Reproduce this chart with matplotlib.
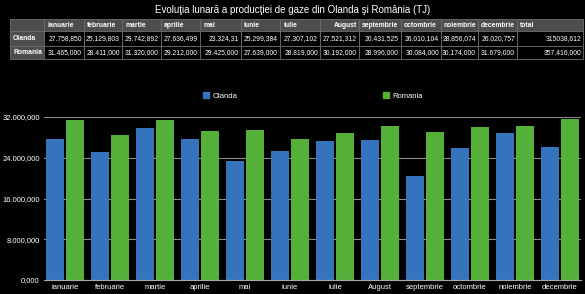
import matplotlib
matplotlib.use("Agg")
import matplotlib.pyplot as plt
from matplotlib.patches import Patch
import numpy as np

plt.rcParams["font.family"] = ["Liberation Sans", "DejaVu Sans"]

months = ["ianuarie", "februarie", "martie", "aprilie", "mai", "iunie", "iulie",
          "August", "septembrie", "octombrie", "noiembrie", "decembrie"]
olanda = [27758.850, 25129.803, 29742.892, 27636.499, 23324.310, 25299.384,
          27307.102, 27521.312, 20431.525, 26010.104, 28856.074, 26020.757]
romania = [31465.0, 28411.0, 31320.0, 29212.0, 29425.0, 27639.0,
           28819.0, 30192.0, 28996.0, 30084.0, 30174.0, 31679.0]
olanda_txt = ["27.758,850", "25.129,803", "29.742,892", "27.636,499", "23.324,31",
              "25.299,384", "27.307,102", "27.521,312", "20.431,525", "26.010,104",
              "28.856,074", "26.020,757", "315038,612"]
romania_txt = ["31.465,000", "28.411,000", "31.320,000", "29.212,000", "29.425,000",
               "27.639,000", "28.819,000", "30.192,000", "28.996,000", "30.084,000",
               "30.174,000", "31.679,000", "357.416,000"]
yticks = [0, 8000, 16000, 24000, 32000]

BLUE = "#3673bd"
GREEN = "#55b03a"
W, H = 585, 294

fig = plt.figure(figsize=(W / 100, H / 100), dpi=100, facecolor="black")

fig.text(0.5, 1 - 10 / H, "Evoluţia lunară a producţiei de gaze din Olanda şi România (TJ)",
         color="white", fontsize=7, ha="center", va="center")

# --- table ---
tab = fig.add_axes([0, 0, 1, 1])
tab.axis("off")
tab.set_xlim(0, W)
tab.set_ylim(H, 0)
col_edges = [10, 44, 84, 122, 161, 200, 241, 280, 320, 359, 401, 441, 478, 517, 583]
row_edges = [19, 31, 46, 59]
header = [""] + months + ["total"]
rows = [header, ["Olanda"] + olanda_txt, ["Romania"] + romania_txt]
for r in range(3):
    for c in range(len(col_edges) - 1):
        x0, x1 = col_edges[c], col_edges[c + 1]
        y0, y1 = row_edges[r], row_edges[r + 1]
        grey = r == 0 or c == 0
        tab.add_patch(plt.Rectangle((x0, y0), x1 - x0, y1 - y0,
                                    facecolor="#4d4d4d" if grey else "black",
                                    edgecolor="#6e6e6e", linewidth=0.6))
        txt = rows[r][c]
        right = (r > 0 and c > 0) or txt == "August"
        tab.text(x1 - 2 if right else x0 + 3, (y0 + y1) / 2 + 0.5, txt,
                 color="white", fontsize=4.9, ha="right" if right else "left",
                 va="center", fontweight="bold" if grey else "normal")

# --- bars ---
ax = fig.add_axes([44 / W, (H - 280) / H, (581 - 44) / W, (280 - 117) / H])
ax.set_facecolor("black")
x = np.arange(len(months))
bw = 0.4
ax.bar(x - bw / 2 - 0.022, olanda, bw, color=BLUE, label="Olanda", zorder=3)
ax.bar(x + bw / 2 + 0.022, romania, bw, color=GREEN, label="Romania", zorder=3)
ax.set_xlim(-0.47, 11.47)
ax.set_ylim(0, 32000)
ax.set_yticks(yticks)
ax.set_yticklabels([f"{v:,.3f}".replace(",", "X").replace(".", ",").replace("X", ".")
                    for v in yticks])
ax.set_xticks(x)
ax.set_xticklabels(months)
ax.tick_params(colors="white", labelsize=5.5, length=0, pad=3)
ax.yaxis.grid(True, color="#8a8a8a", linewidth=0.8, zorder=0)
for s in ["top", "right", "left"]:
    ax.spines[s].set_visible(False)
ax.spines["bottom"].set_color("#aaaaaa")
ax.spines["bottom"].set_linewidth(0.8)
ax.spines["bottom"].set_zorder(4)

handles = [Patch(color=BLUE, label="Olanda"), Patch(color=GREEN, label="Romania")]
leg = fig.legend(handles=handles, loc="center", bbox_to_anchor=(313 / W, 1 - 96 / H),
                 ncol=2, frameon=False, fontsize=5.5, handlelength=0.8,
                 handleheight=0.8, columnspacing=19.0, handletextpad=0.5)
for t in leg.get_texts():
    t.set_color("white")

fig.savefig("out.png", dpi=100, facecolor="black")
